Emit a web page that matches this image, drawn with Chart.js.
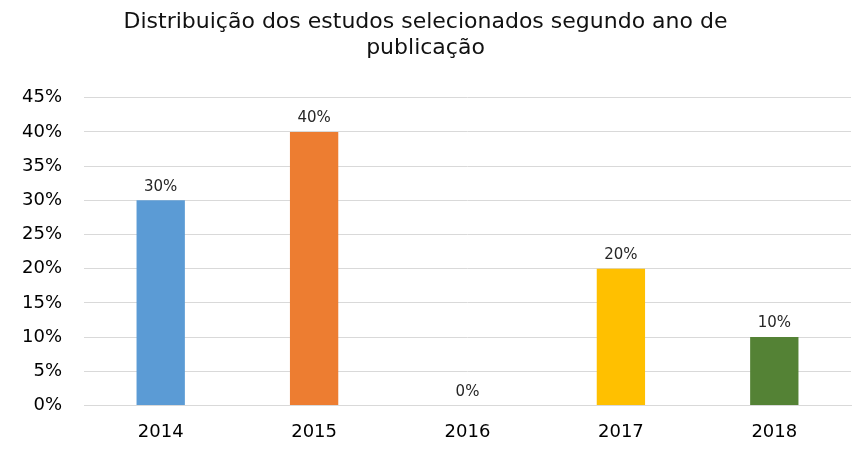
<!DOCTYPE html>
<html>
<head>
<meta charset="utf-8">
<script src="https://cdn.jsdelivr.net/npm/chart.js@4/dist/chart.umd.min.js"></script>
<style>
  html, body { margin: 0; padding: 0; background: #fff; }
  #wrap { width: 863px; height: 452px; }
</style>
</head>
<body>
<div id="wrap"><canvas id="anoChart"></canvas></div>
<script>
// chart data
const anos = ['2014', '2015', '2016', '2017', '2018'];
const percentuais = [30, 40, 0, 20, 10];
const cores = ['#5B9BD5', '#ED7D31', '#A5A5A5', '#FFC000', '#548235'];
const titulo = ['Distribuição dos estudos selecionados segundo ano de', 'publicação'];

// draws the value above each bar
const rotulos = {
    id: 'rotulos',
    afterDatasetsDraw(chart) {
        const ctx = chart.ctx;
        const meta = chart.getDatasetMeta(0);
        ctx.save();
        ctx.font = '15px "DejaVu Sans"';
        ctx.fillStyle = '#262626';
        ctx.textAlign = 'center';
        ctx.textBaseline = 'bottom';
        meta.data.forEach((bar, i) => {
            ctx.fillText(percentuais[i] + '%', bar.x, bar.y - 6);
        });
        ctx.restore();
    }
};

const ctx = document.getElementById('anoChart').getContext('2d');
const anoChart = new Chart(ctx, {
    type: 'bar',
    data: {
        labels: anos,
        datasets: [{
            data: percentuais,
            backgroundColor: cores,
            barPercentage: 0.63,
            categoryPercentage: 0.5
        }]
    },
    options: {
        responsive: true,
        maintainAspectRatio: false,
        animation: false,
        layout: { padding: { left: 0, right: 12, top: 9, bottom: 1 } },
        plugins: {
            legend: { display: false },
            tooltip: { enabled: false },
            title: {
                display: true,
                text: titulo,
                color: '#111',
                font: { family: 'DejaVu Sans', size: 22, weight: 'normal', lineHeight: 1.2 },
                padding: { top: 0, bottom: 36 }
            }
        },
        scales: {
            x: {
                grid: { display: false },
                border: { color: '#d9d9d9' },
                ticks: { color: '#000', font: { family: 'DejaVu Sans', size: 18 }, padding: 8 }
            },
            y: {
                min: 0,
                max: 45,
                ticks: {
                    stepSize: 5,
                    color: '#000',
                    padding: 22,
                    font: { family: 'DejaVu Sans', size: 18 },
                    callback: v => v + '%'
                },
                grid: { color: '#d9d9d9', drawTicks: false },
                border: { display: false }
            }
        }
    },
    plugins: [rotulos]
});
</script>
</body>
</html>
